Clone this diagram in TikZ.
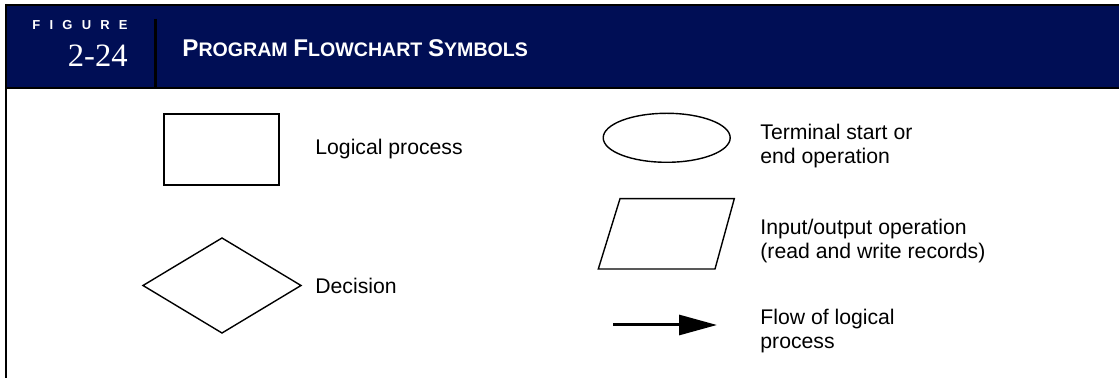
\documentclass[tikz,border=0pt]{standalone}
\usepackage{fontspec}
\usepackage{tikz}
\usepackage{xcolor}
\usetikzlibrary{shapes.geometric,arrows.meta}

\newfontfamily\labelfont{Liberation Sans}
\newfontfamily\numfont{Liberation Serif}
\definecolor{figblue}{HTML}{000E55}
\newcommand{\capword}[2]{{\fontsize{12.1}{12}\selectfont #1}{\fontsize{9.8}{10}\selectfont #2}}

\begin{document}
\begin{tikzpicture}[x=0.5pt,y=-0.5pt,
    symbol/.style={draw, line width=0.7pt, inner sep=0pt, outer sep=0pt},
    desc/.style={anchor=base west, align=left, inner sep=0pt, font=\labelfont\fontsize{10.6}{12}\selectfont}]

    \useasboundingbox (0,0) rectangle (1119,378);

    % Header band
    \fill[figblue] (6,5) rectangle (1119,88);
    \draw[line width=1pt] (5,5) -- (1119,5);
    \draw[line width=1pt] (5,88) -- (1119,88);
    \draw[line width=1pt] (6,4) -- (6,378);
    \draw[line width=1.5pt] (155,19) -- (155,88);

    \node[anchor=base east, inner sep=0pt, white, font=\labelfont\bfseries\fontsize{6.5}{7}\selectfont] (figword) at (128,29.3)
        {F\hspace{4.6pt}I\hspace{4.6pt}G\hspace{4.6pt}U\hspace{4.6pt}R\hspace{4.6pt}E};
    \node[anchor=base east, inner sep=0pt, white, font=\numfont\fontsize{16.3}{17}\selectfont] (fignum) at (128,66.7) {2-24};
    \node[anchor=base west, inner sep=0pt, white, font=\labelfont\bfseries] (title) at (182,56.7)
        {\capword{P}{ROGRAM} \capword{F}{LOWCHART} \capword{S}{YMBOLS}};

    % Symbols
    \node[symbol, rectangle, minimum width=57.5pt, minimum height=35.5pt] (process) at (221.5,149.5) {};
    \node[symbol, diamond, minimum width=79pt, minimum height=47.5pt] (decision) at (222,285.5) {};
    \node[symbol, ellipse, minimum width=63.5pt, minimum height=24.5pt] (terminal) at (666.7,137.8) {};

    % Input/output parallelogram
    \coordinate (io) at (666.3,234);
    \draw[line width=0.7pt, shift={(io)}] (-68,35) -- (48.7,35) -- (68,-35.3) -- (-46.3,-35.3) -- cycle;

    % Flow arrow
    \coordinate (flowstart) at (613,325);
    \coordinate (flowend) at (717,325);
    \draw[line width=1.5pt, -{Triangle[length=19pt,width=10pt]}] (flowstart) -- (flowend);

    % Labels (base = last line)
    \node[desc] (processlbl) at (315,155) {Logical process};
    \node[desc] (decisionlbl) at (315,294) {Decision};
    \node[desc] (terminallbl) at (760,163.3) {Terminal start or\\end operation};
    \node[desc] (iolbl) at (760,258.3) {Input/output operation\\(read and write records)};
    \node[desc] (flowlbl) at (760,349) {Flow of logical\\process};
\end{tikzpicture}
\end{document}
